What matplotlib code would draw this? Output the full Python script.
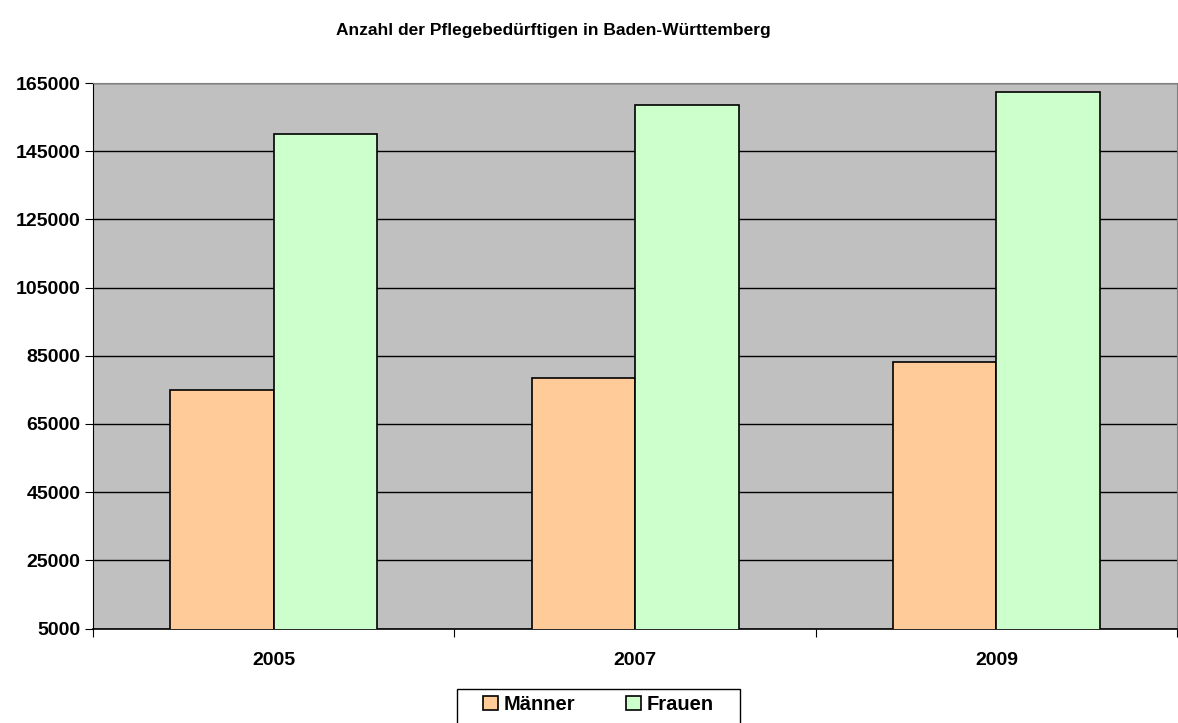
import numpy as np
import matplotlib.pyplot as plt
from matplotlib.patches import Rectangle

plt.rcParams['font.family'] = ['Liberation Sans', 'DejaVu Sans']
plt.rcParams['font.weight'] = 'bold'

years = ["2005", "2007", "2009"]
maenner = [75000, 78450, 83250]
frauen = [150000, 158450, 162450]

TITLE = "Anzahl der Pflegebedürftigen in Baden-Württemberg"


def main():
    fig = plt.figure(figsize=(11.78, 7.23), dpi=100)
    ax = fig.add_axes([0.079, 0.1307, 0.9202, 0.7545])
    ax.set_facecolor("#C0C0C0")

    x = np.arange(len(years))
    w = 0.2865
    ax.bar(x - w / 2, maenner, w, bottom=0, color="#FFCC99", edgecolor="black",
           linewidth=1.2, label="Männer", zorder=3)
    ax.bar(x + w / 2, frauen, w, bottom=0, color="#CCFFCC", edgecolor="black",
           linewidth=1.2, label="Frauen", zorder=3)

    ax.set_ylim(5000, 165000)
    ax.set_xlim(-0.5, len(years) - 0.5)
    ax.set_yticks(np.arange(5000, 165001, 20000))
    ax.yaxis.grid(True, color="black", linewidth=1.0, zorder=1)
    ax.set_axisbelow(True)

    # ticks between categories, labels at centers
    ax.set_xticks(np.arange(-0.5, len(years), 1.0))
    ax.set_xticklabels([])
    ax.set_xticks(x, minor=True)
    ax.set_xticklabels(years, minor=True, fontsize=14, fontweight="bold")
    ax.tick_params(axis="x", which="minor", length=0, pad=17)
    ax.tick_params(axis="x", which="major", length=6, color="black")
    ax.tick_params(axis="y", length=6, labelsize=14, pad=3)
    for lab in ax.get_yticklabels():
        lab.set_fontweight("bold")

    ax.spines["top"].set_color("#808080")
    ax.spines["right"].set_color("#808080")
    ax.spines["left"].set_color("black")
    ax.spines["bottom"].set_color("black")
    ax.spines["bottom"].set_linewidth(1.2)

    fig.text(0.47, 0.958, TITLE, ha="center", va="center", fontsize=12.5,
             fontweight="bold")

    leg = fig.legend(loc="center", bbox_to_anchor=(0.508, 0.0255), ncol=2,
                     frameon=False, fontsize=14.5, handlelength=0.75,
                     handleheight=0.75, handletextpad=0.25, columnspacing=2.55,
                     borderpad=0, borderaxespad=0)
    for t in leg.get_texts():
        t.set_fontweight("bold")

    # legend box: wider than the entries, runs off the bottom edge
    fig.canvas.draw()
    bb = leg.get_window_extent()
    box = Rectangle((bb.x0 - 26, -10), bb.width + 52, bb.y1 + 6 + 10,
                    transform=None, fill=False, edgecolor="black",
                    linewidth=1.0)
    fig.patches.append(box)

    fig.savefig("out.png", dpi=100)


if __name__ == "__main__":
    main()
